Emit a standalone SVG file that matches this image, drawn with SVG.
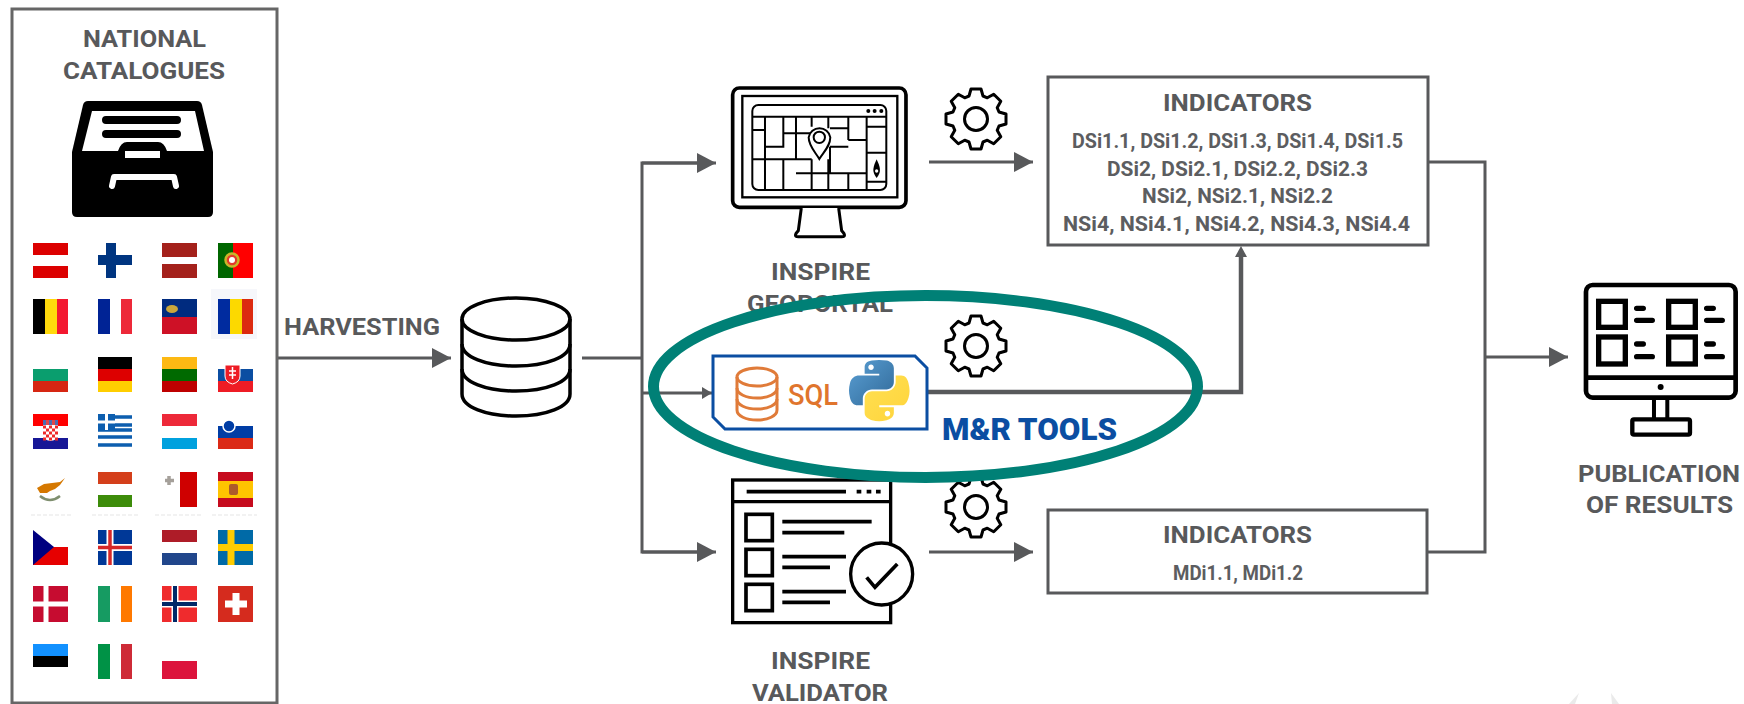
<svg xmlns="http://www.w3.org/2000/svg" width="1744" height="704" viewBox="0 0 1744 704">
<style>
.t{font-family:Roboto,"Liberation Sans",sans-serif;font-weight:700;fill:#58595b;font-size:24px}
.s{font-size:20px;font-weight:700;fill:#5c5d60}
.c{fill:none;stroke:#58595b;stroke-width:3}
.gear{fill:#fff;stroke:#000;stroke-width:3;stroke-linejoin:round}
</style>
<defs>
<marker id="ah" markerUnits="userSpaceOnUse" markerWidth="20" markerHeight="20" refX="19" refY="10" orient="auto"><path d="M0 0L19 10L0 20Z" fill="#58595b"/></marker>
<marker id="ahs" markerUnits="userSpaceOnUse" markerWidth="11" markerHeight="12" refX="10" refY="6" orient="auto"><path d="M0 0L10 6L0 12Z" fill="#58595b"/></marker>
<g id="gearIcon"><path class="gear" d="M-7-23L-5-30L5-30L7-23L11.3-21.2L17.7-24.8L24.8-17.7L21.2-11.3L23-7L30-5L30 5L23 7L21.2 11.3L24.8 17.7L17.7 24.8L11.3 21.2L7 23L5 30L-5 30L-7 23L-11.3 21.2L-17.7 24.8L-24.8 17.7L-21.2 11.3L-23 7L-30 5L-30-5L-23-7L-21.2-11.3L-24.8-17.7L-17.7-24.8L-11.3-21.2Z"/><circle r="11.5" fill="#fff" stroke="#000" stroke-width="3"/></g>
<linearGradient id="py1" x1="0" y1="0" x2="1" y2="1"><stop offset="0" stop-color="#5a9fd4"/><stop offset="1" stop-color="#306998"/></linearGradient>
<linearGradient id="py2" x1="0" y1="0" x2="1" y2="1"><stop offset="0" stop-color="#ffe052"/><stop offset="1" stop-color="#ffd43b"/></linearGradient>
</defs>
<rect width="1744" height="704" fill="#fff"/>

<g id="connectors">
<path class="c" d="M277 358H451" marker-end="url(#ah)"/>
<path class="c" d="M582 358H642"/>
<path class="c" d="M697 163H642V552H697"/>
<path class="c" d="M642 163H716" marker-end="url(#ah)"/>
<path class="c" d="M642 552H716" marker-end="url(#ah)"/>
<path class="c" d="M642 393H712" marker-end="url(#ahs)"/>
<path class="c" d="M929 162H1033" marker-end="url(#ah)"/>
<path class="c" d="M929 552H1033" marker-end="url(#ah)"/>
<path d="M928 392H1241V255" fill="none" stroke="#58595b" stroke-width="4.5"/>
<path d="M1241 246L1247 257H1235Z" fill="#58595b"/>
<path class="c" d="M1428 162H1485V552H1427"/>
<path class="c" d="M1485 357H1568" marker-end="url(#ah)"/>
</g>

<g id="national-catalogues">
<rect x="12" y="9" width="265" height="694" fill="#fff" stroke="#666" stroke-width="3"/>
<text class="t" x="83" y="47" textLength="123" lengthAdjust="spacingAndGlyphs">NATIONAL</text>
<text class="t" x="63" y="79" textLength="162" lengthAdjust="spacingAndGlyphs">CATALOGUES</text>
<g id="drawer">
<path d="M88 101H197Q201 101 202 105L213 152V212Q213 217 208 217H77Q72 217 72 212V152L83 105Q84 101 88 101Z" fill="#000"/>
<path d="M92 111H195L204 151H167Q164 142 158 142H127Q121 142 118 151H82Z" fill="#fff"/>
<path d="M106 120H177M106 134H177" stroke="#000" stroke-width="8" stroke-linecap="round" fill="none"/>
<rect x="125" y="151" width="35" height="7" fill="#fff"/>
<path d="M112 186L114 177H174L176 186" fill="none" stroke="#fff" stroke-width="6" stroke-linecap="round" stroke-linejoin="round"/>
</g>
<g id="flags">
<!-- row 1 -->
<path d="M33 243h35v12H33zM33 266h35v12H33z" fill="#dc0000"/>
<path d="M106 243h10v35h-10zM98 255h34v10H98z" fill="#003580"/>
<path d="M162 243h35v14h-35zM162 264h35v14h-35z" fill="#a4211b"/>
<rect x="218" y="243" width="35" height="35" fill="#f00"/><rect x="218" y="243" width="15" height="35" fill="#006600"/><circle cx="232" cy="260" r="6.500" fill="#e23a2a" stroke="#c9b52a" stroke-width="2.500"/><circle cx="232" cy="260" r="3" fill="#fff"/>
<!-- row 2 -->
<rect x="33" y="299" width="12" height="35" fill="#000"/><rect x="45" y="299" width="12" height="35" fill="#ffd90c"/><rect x="57" y="299" width="11" height="35" fill="#f31830"/>
<rect x="98" y="299" width="12" height="35" fill="#002395"/><rect x="121" y="299" width="11" height="35" fill="#ed2939"/>
<rect x="162" y="299" width="35" height="18" fill="#002b7f"/><rect x="162" y="317" width="35" height="17" fill="#ce1126"/><ellipse cx="172" cy="309" rx="6" ry="4" fill="#c9a73b"/>
<rect x="211" y="289" width="46" height="50" fill="#f6f7fb"/><rect x="218" y="299" width="12" height="35" fill="#002b9f"/><rect x="230" y="299" width="12" height="35" fill="#fcd900"/><rect x="242" y="299" width="11" height="35" fill="#dc2a10"/>
<!-- row 3 -->
<rect x="33" y="369" width="35" height="12" fill="#0a9e6e"/><rect x="33" y="381" width="35" height="11" fill="#d62612"/>
<rect x="98" y="357" width="34" height="12" fill="#000"/><rect x="98" y="369" width="34" height="12" fill="#d00"/><rect x="98" y="381" width="34" height="11" fill="#ffce00"/>
<rect x="162" y="357" width="35" height="12" fill="#fdb913"/><rect x="162" y="369" width="35" height="12" fill="#006a00"/><rect x="162" y="381" width="35" height="11" fill="#be0000"/>
<rect x="218" y="369" width="35" height="12" fill="#0b4ea2"/><rect x="218" y="381" width="35" height="11" fill="#ee1c25"/><path d="M225 365H240V376Q240 382 232.500 384Q225 382 225 376Z" fill="#ee1c25" stroke="#fff"/><path d="M232.500 367V379M229 371H236M229 375H236" stroke="#fff" stroke-width="1.500"/>
<!-- row 4 -->
<rect x="33" y="414" width="35" height="12" fill="#f00"/><rect x="33" y="438" width="35" height="11" fill="#171796"/>
<path d="M43 425H58V435Q58 440 50.500 441Q43 440 43 435Z" fill="#fff"/>
<path d="M43 427H58M43 433H58M43 439H58" stroke="#ee2a2a" stroke-width="3" stroke-dasharray="3 3" fill="none"/><path d="M46 430H58M46 436H56" stroke="#ee2a2a" stroke-width="3" stroke-dasharray="3 3" fill="none"/>
<path d="M43 420h15v5H43z" fill="#4b6cb0"/><path d="M46 420h3v5h-3zM52 420h3v5h-3z" fill="#e0454a"/>
<rect x="98" y="414" width="34" height="35" fill="#fff"/><path d="M98 437H132M98 445H132M115 417H132M115 425H132M98 430H132" stroke="#0d5eaf" stroke-width="3.500" fill="none"/><rect x="98" y="414" width="17" height="16" fill="#0d5eaf"/><path d="M106.500 414v16M98 422h17" stroke="#fff" stroke-width="3"/>
<rect x="162" y="414" width="35" height="12" fill="#ed2939"/><rect x="162" y="438" width="35" height="11" fill="#00a1de"/>
<rect x="218" y="426" width="35" height="12" fill="#003da5"/><rect x="218" y="438" width="35" height="11" fill="#db2a16"/><circle cx="229" cy="426" r="6" fill="#003da5" stroke="#fff" stroke-width="1.500"/>
<!-- row 5 -->
<path d="M37 488L44 484L52 483L60 482L65 478L60 485L55 489L50 491L47 493L40 493Z" fill="#d57800"/><path d="M40 496Q50 504 60 496" fill="none" stroke="#7f8f6f" stroke-width="2.500"/>
<path d="M98 472h34v12H98z" fill="#d43f1b"/><path d="M98 495h34v12H98z" fill="#3d8c0a"/>
<rect x="180" y="472" width="17" height="35" fill="#cf0000"/><path d="M169 476v9M165 480.500h9" stroke="#a5a09a" stroke-width="3.500"/>
<rect x="218" y="472" width="35" height="35" fill="#c60b1e"/><rect x="218" y="481" width="35" height="17" fill="#ffc400"/><rect x="229" y="484" width="9" height="11" rx="2" fill="#ad5a2b"/>
<path d="M31 515H72M92 515H138M155 515H202M212 515H257" stroke="#eee" stroke-width="1.500" stroke-dasharray="4 2" fill="none"/>
<!-- row 6 -->
<rect x="33" y="547" width="35" height="18" fill="#e60000"/><path d="M33 530L54 547L33 565Z" fill="#000080"/>
<rect x="98" y="530" width="34" height="35" fill="#003897"/><path d="M110 530v35M98 547.500h34" stroke="#fff" stroke-width="7"/><path d="M110 530v35M98 547.500h34" stroke="#d72828" stroke-width="3.500"/>
<rect x="162" y="530" width="35" height="12" fill="#ae1c28"/><rect x="162" y="553" width="35" height="12" fill="#21468b"/>
<rect x="218" y="530" width="35" height="35" fill="#006aa7"/><path d="M231 530v35M218 547.500h35" stroke="#fecc00" stroke-width="7"/>
<!-- row 7 -->
<rect x="33" y="586" width="35" height="36" fill="#c60c30"/><path d="M46 586v36M33 604h35" stroke="#fff" stroke-width="5"/>
<rect x="98" y="586" width="12" height="36" fill="#169b62"/><rect x="121" y="586" width="11" height="36" fill="#ff7900"/>
<rect x="162" y="586" width="35" height="36" fill="#ef2b2d"/><path d="M175 586v36M162 604h35" stroke="#fff" stroke-width="7"/><path d="M175 586v36M162 604h35" stroke="#002868" stroke-width="4"/>
<rect x="218" y="586" width="35" height="36" fill="#d52b1e"/><path d="M236 593v22M225 604h22" stroke="#fff" stroke-width="7"/>
<!-- row 8 -->
<rect x="33" y="644" width="35" height="12" fill="#1291ff"/><rect x="33" y="656" width="35" height="11" fill="#000"/>
<rect x="98" y="644" width="12" height="35" fill="#009246"/><rect x="121" y="644" width="11" height="35" fill="#ce2b37"/>
<rect x="162" y="661" width="35" height="18" fill="#dc143c"/>
</g>
</g>

<g id="harvesting"><text class="t" x="284" y="335" textLength="156" lengthAdjust="spacingAndGlyphs">HARVESTING</text></g>

<g id="database" fill="none" stroke="#000" stroke-width="3.500">
<ellipse cx="516" cy="319" rx="54" ry="21"/>
<path d="M462 319V394C462 407 486 416 516 416S570 407 570 394V319"/>
<path d="M462 344C462 357 486 366 516 366S570 357 570 344"/>
<path d="M462 369C462 382 486 391 516 391S570 382 570 369"/>
</g>

<g id="inspire-geoportal">
<g transform="translate(640 60) scale(.3333)" fill="none" stroke="#000">
<rect x="278" y="84" width="520" height="358" rx="20" stroke-width="11"/>
<rect x="307" y="108" width="465" height="304" stroke-width="7"/>
<rect x="337" y="135" width="402" height="255" rx="18" stroke-width="6"/>
<path stroke-width="6" d="M337 170H739M338 210H375M375 170V388M375 260H430V220H510M430 170V220M468 170V298M515 170V200M565 170V205M625 170V240M570 205H625M570 260H625M625 240H680M680 170V388M680 200H739M680 278H739M680 365H739M338 298H515M430 298V388M468 340H680M515 298V388M565 298V388M625 340V388M570 260V340"/>
<path d="M538 297C525 275 506 258 506 232A33 33 0 0 1 571 232C571 258 552 275 538 297Z" fill="#fff" stroke-width="6"/>
<circle cx="538" cy="232" r="17" fill="#fff" stroke-width="6"/>
<path d="M710 298C700 320 694 335 710 354C726 335 720 320 710 298Z" fill="#000" stroke="none"/>
<circle cx="710" cy="333" r="5" fill="#fff" stroke="none"/>
<circle cx="685" cy="153" r="6" fill="#000" stroke="none"/><circle cx="704" cy="153" r="6" fill="#000" stroke="none"/><circle cx="724" cy="153" r="6" fill="#000" stroke="none"/>
<path d="M484 444L475 512Q458 530 475 530H605Q622 530 605 512L596 444" fill="#fff" stroke-width="9"/>
</g>
<text class="t" x="771" y="280" textLength="99" lengthAdjust="spacingAndGlyphs">INSPIRE</text>
<text class="t" x="747" y="312" textLength="146" lengthAdjust="spacingAndGlyphs">GEOPORTAL</text>
</g>

<g id="gears">
<use href="#gearIcon" transform="translate(976 119)"/>
<use href="#gearIcon" transform="translate(976 346)"/>
<use href="#gearIcon" transform="translate(976 507)"/>
</g>

<g id="indicators-top">
<rect x="1048" y="77" width="380" height="168" fill="#fff" stroke="#58595b" stroke-width="3"/>
<text class="t" x="1163" y="111" textLength="149" lengthAdjust="spacingAndGlyphs">INDICATORS</text>
<text class="t s" x="1072" y="148" textLength="331" lengthAdjust="spacingAndGlyphs">DSi1.1, DSi1.2, DSi1.3, DSi1.4, DSi1.5</text>
<text class="t s" x="1107" y="176" textLength="261" lengthAdjust="spacingAndGlyphs">DSi2, DSi2.1, DSi2.2, DSi2.3</text>
<text class="t s" x="1142" y="203" textLength="191" lengthAdjust="spacingAndGlyphs">NSi2, NSi2.1, NSi2.2</text>
<text class="t s" x="1063" y="231" textLength="347" lengthAdjust="spacingAndGlyphs">NSi4, NSi4.1, NSi4.2, NSi4.3, NSi4.4</text>
</g>

<g id="indicators-bottom">
<rect x="1048" y="510" width="379" height="83" fill="#fff" stroke="#58595b" stroke-width="3"/>
<text class="t" x="1163" y="543" textLength="149" lengthAdjust="spacingAndGlyphs">INDICATORS</text>
<text class="t s" x="1173" y="580" textLength="130" lengthAdjust="spacingAndGlyphs">MDi1.1, MDi1.2</text>
</g>

<g id="inspire-validator">
<g transform="translate(640 470) scale(.3333)" fill="none" stroke="#000">
<rect x="278" y="30" width="474" height="428" stroke-width="10"/>
<path stroke-width="10" d="M278 95H752"/>
<path stroke-width="11" d="M320 65H618M650 65H664M680 65H694M708 65H722"/>
<rect x="318" y="133" width="79" height="79" stroke-width="11"/>
<rect x="318" y="238" width="79" height="79" stroke-width="11"/>
<rect x="318" y="343" width="79" height="79" stroke-width="11"/>
<path stroke-width="11" d="M427 155H695M427 188H613M427 260H618M427 292H570M427 365H618M427 397H570"/>
<circle cx="725" cy="312" r="93" fill="#fff" stroke-width="10"/>
<path stroke-width="11" d="M680 322L705 352L772 282"/>
</g>
<text class="t" x="771" y="669" textLength="99" lengthAdjust="spacingAndGlyphs">INSPIRE</text>
<text class="t" x="752" y="701" textLength="136" lengthAdjust="spacingAndGlyphs">VALIDATOR</text>
</g>

<g id="mr-tools">
<path d="M713 356H915L927 368V429H725L713 417Z" fill="#fff" stroke="#0b4ea2" stroke-width="3"/>
<g fill="none" stroke="#e07b39" stroke-width="3">
<ellipse cx="757" cy="377" rx="20" ry="9"/>
<path d="M737 377V410C737 416 746 420 757 420S777 416 777 410V377"/>
<path d="M737 388C737 394 746 398 757 398S777 394 777 388"/>
<path d="M737 399C737 405 746 409 757 409S777 405 777 399"/>
</g>
<text x="788" y="405" textLength="50" lengthAdjust="spacingAndGlyphs" font-family="Roboto,'Liberation Sans',sans-serif" font-weight="500" font-size="30" fill="#e0752d">SQL</text>
<g transform="translate(849 360) scale(.545)">
<path fill="url(#py1)" d="M54.919 0.001c-4.584 0.021-8.961 0.412-12.812 1.094-11.346 2.004-13.406 6.2-13.406 13.937v10.219h26.812v3.406h-26.812-10.062c-7.792 0-14.616 4.684-16.75 13.594-2.462 10.213-2.571 16.586 0 27.25 1.906 7.938 6.458 13.594 14.25 13.594h9.219v-12.25c0-8.85 7.657-16.656 16.75-16.656h26.781c7.455 0 13.406-6.138 13.406-13.625v-25.531c0-7.266-6.13-12.725-13.406-13.937-4.606-0.767-9.385-1.115-13.969-1.094zm-14.5 8.219c2.77 0 5.031 2.299 5.031 5.125 0 2.816-2.262 5.094-5.031 5.094-2.779 0-5.031-2.277-5.031-5.094 0-2.826 2.252-5.125 5.031-5.125z"/>
<path fill="url(#py2)" d="M85.638 28.657v11.906c0 9.231-7.826 17-16.75 17h-26.781c-7.336 0-13.406 6.278-13.406 13.625v25.531c0 7.266 6.319 11.54 13.406 13.625 8.487 2.496 16.626 2.947 26.781 0 6.75-1.954 13.406-5.888 13.406-13.625v-10.219h-26.781v-3.406h26.781 13.406c7.792 0 10.696-5.435 13.406-13.594 2.799-8.399 2.68-16.476 0-27.25-1.926-7.757-5.604-13.594-13.406-13.594zm-15.063 64.656c2.78 0 5.031 2.277 5.031 5.094 0 2.826-2.252 5.125-5.031 5.125-2.77 0-5.031-2.299-5.031-5.125 0-2.816 2.262-5.094 5.031-5.094z"/>
</g>
<text x="942" y="440" textLength="175" lengthAdjust="spacingAndGlyphs" font-family="Roboto,'Liberation Sans',sans-serif" font-weight="900" font-size="32" fill="#0b4ea2">M&amp;R TOOLS</text>
</g>

<g id="publication">
<g transform="translate(1440 260) scale(.3333)" fill="none" stroke="#000">
<rect x="438" y="75" width="449" height="338" rx="20" stroke-width="14"/>
<path stroke-width="14" d="M438 353H887"/>
<circle cx="662" cy="381" r="9" fill="#000" stroke="none"/>
<path stroke-width="12" d="M642 413V478M682 413V478"/>
<rect x="577" y="478" width="173" height="46" rx="5" stroke-width="13"/>
<rect x="476" y="124" width="80" height="78" stroke-width="16"/><rect x="686" y="124" width="80" height="78" stroke-width="16"/>
<rect x="476" y="231" width="80" height="81" stroke-width="16"/><rect x="686" y="231" width="80" height="81" stroke-width="16"/>
<path stroke-width="16" stroke-linecap="round" d="M590 145H610M590 181H637M800 145H820M800 181H847M590 252H610M590 290H637M800 252H820M800 290H847"/>
</g>
<text class="t" x="1578" y="482" textLength="162" lengthAdjust="spacingAndGlyphs">PUBLICATION</text>
<text class="t" x="1586" y="513" textLength="147" lengthAdjust="spacingAndGlyphs">OF RESULTS</text>
</g>

<g id="highlight"><ellipse cx="925.500" cy="386.500" rx="272" ry="91" fill="none" stroke="#008076" stroke-width="11"/></g>
<path id="watermark" d="M1569 704L1579 693L1575 704ZM1611 693L1619 704H1612Z" fill="#eaeaea"/>
</svg>
